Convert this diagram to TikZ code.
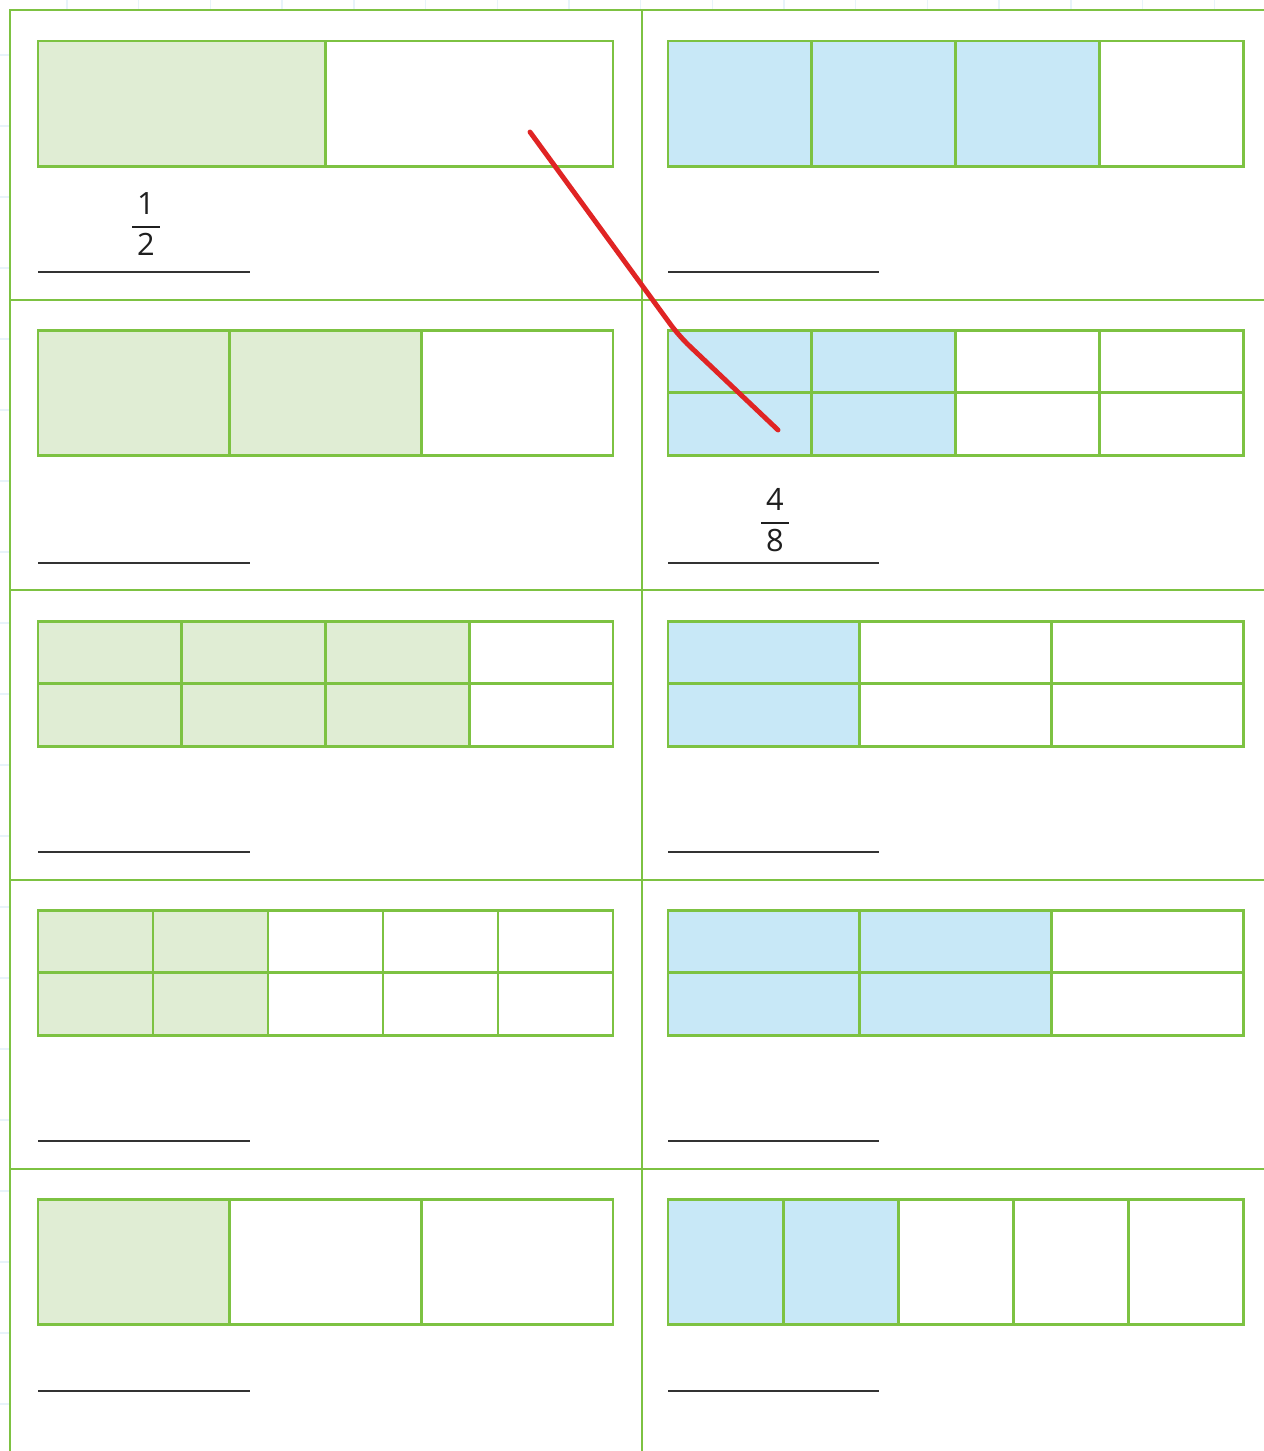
\documentclass[tikz,border=0pt]{standalone}
\usepackage{fontspec}
\setmainfont{Open Sans}
\usetikzlibrary{positioning, calc}
\definecolor{wsGreen}{HTML}{7DC242}
\definecolor{wsGreenFill}{HTML}{E0EDD4}
\definecolor{wsBlueFill}{HTML}{C8E8F7}
\definecolor{wsPen}{HTML}{E02424}
\definecolor{wsGrid}{HTML}{E8F3FA}
\definecolor{wsInk}{HTML}{333333}
\tikzset{
  frameline/.style={draw=wsGreen, line width=1.4pt},
  cellline/.style={draw=wsGreen, line width=1.7pt},
  answerline/.style={draw=wsInk, line width=1.6pt},
  penline/.style={draw=wsPen, line width=2.8pt, line cap=round, line join=round, rounded corners=8pt},
  gridline/.style={draw=wsGrid, line width=0.8pt},
  fracnum/.style={font=\fontsize{17.5}{18}\selectfont, text=black!88, inner sep=0pt, align=center}
}
\setlength{\arrayrulewidth}{1.2pt}
% fraction written as numerator over a short bar over denominator
\newcommand{\fracpair}[2]{\begin{tabular}{@{\,}c@{\,}}#1\\[1pt]\hline\noalign{\vskip 3pt}#2\end{tabular}}
% bar of equal parts: name, left, top, columns, rows, shaded columns, fill
\newcommand{\partbar}[7]{%
  \coordinate (#1) at (#2,#3);
  \fill[#7] (#1) rectangle ++(#6*575/#4,125);
  \pgfmathtruncatemacro{\lastcol}{#4-1}
  \foreach \k in {1,...,\lastcol}
    \draw[cellline] ($(#1)+(\k*575/#4,0)$) -- ++(0,125);
  \ifnum#5=2 \draw[cellline] ($(#1)+(0,62.5)$) -- ++(575,0); \fi
  \draw[cellline] (#1) rectangle ++(575,125);
}

\begin{document}
\begin{tikzpicture}[x=0.02cm, y=-0.02cm]
  \useasboundingbox (0,0) rectangle (1264,1451);

  % squared paper behind the sheet
  \foreach \gx in {-4.7,67,...,1290}
    \draw[gridline] (\gx,0) -- (\gx,1451);
  \foreach \gy in {-16,55,...,1460}
    \draw[gridline] (0,\gy) -- (1264,\gy);
  \fill[white] (10,10) rectangle (1264,1451);

  % sheet frame
  \draw[frameline] (10,1451) -- (10,10) -- (1264,10);
  \draw[frameline] (642,10) -- (642,1451);
  \foreach \ry in {300,590,880,1169}
    \draw[frameline] (10,\ry) -- (1264,\ry);

  % left column
  \partbar{barA}{38}{41}{2}{1}{1}{wsGreenFill}
  \partbar{barC}{38}{330}{3}{1}{2}{wsGreenFill}
  \partbar{barE}{38}{621}{4}{2}{3}{wsGreenFill}
  \partbar{barG}{38}{910}{5}{2}{2}{wsGreenFill}
  \partbar{barI}{38}{1199}{3}{1}{1}{wsGreenFill}

  % right column
  \partbar{barB}{668}{41}{4}{1}{3}{wsBlueFill}
  \partbar{barD}{668}{330}{4}{2}{2}{wsBlueFill}
  \partbar{barF}{668}{621}{3}{2}{1}{wsBlueFill}
  \partbar{barH}{668}{910}{3}{2}{2}{wsBlueFill}
  \partbar{barJ}{668}{1199}{5}{1}{2}{wsBlueFill}

  % answer lines
  \foreach \ly in {272,563,852,1141,1391} {
    \draw[answerline] (38,\ly) -- (250,\ly);
    \draw[answerline] (668,\ly) -- (879,\ly);
  }

  % answers
  \node[fracnum] (half) at (146,229) {\fracpair{1}{2}};
  \node[fracnum] (fourEighths) at (775,525) {\fracpair{4}{8}};

  % matching stroke
  \coordinate (penStart) at (530,132);
  \coordinate (penBend) at (679,336);
  \coordinate (penEnd) at (778,430);
  \draw[penline] (penStart) -- (penBend) -- (penEnd);
\end{tikzpicture}
\end{document}
